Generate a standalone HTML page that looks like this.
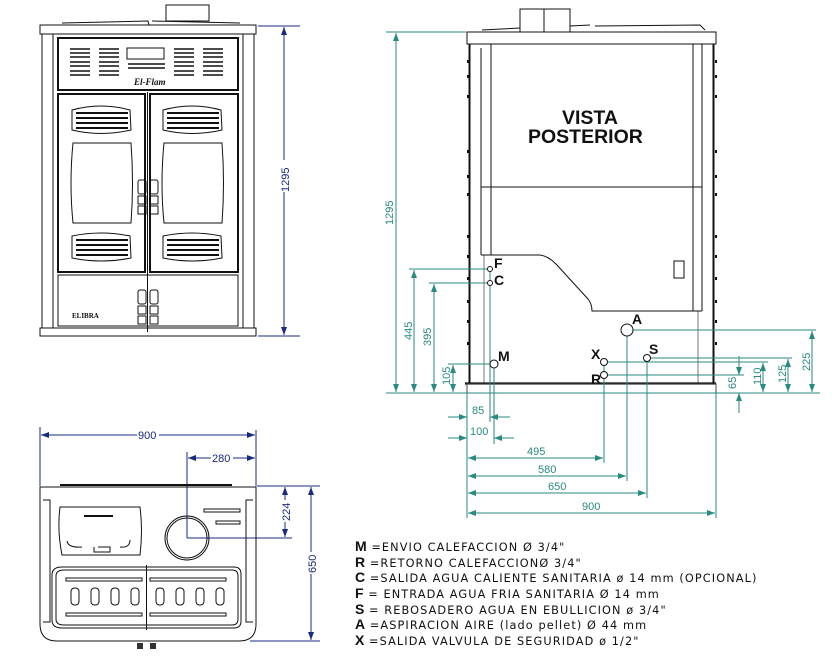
<!DOCTYPE html>
<html><head><meta charset="utf-8"><style>
html,body{margin:0;padding:0;background:#fff;}
svg{display:block;}
.k{stroke:#111;fill:none;stroke-width:1;}
.kb{stroke:#111;fill:none;stroke-width:2;}
.t{stroke:#2a8a80;fill:none;stroke-width:1;}
.n{stroke:#1a2a80;fill:none;stroke-width:1;}
.tt{fill:#2a8a80;font-family:"Liberation Sans",sans-serif;font-size:11px;}
.nt{fill:#1a2a80;font-family:"Liberation Sans",sans-serif;font-size:11px;}
.lg{font-family:"DejaVu Sans","Liberation Sans",sans-serif;font-size:11.3px;fill:#111;letter-spacing:1.1px;}
.lb{font-family:"Liberation Sans",sans-serif;font-weight:bold;font-size:14px;fill:#111;letter-spacing:0;}
</style></head><body>
<svg width="834" height="669" viewBox="0 0 834 669" xmlns="http://www.w3.org/2000/svg">
<defs>
<marker id="at" markerWidth="8" markerHeight="6" refX="8" refY="3" orient="auto-start-reverse"><path d="M0,0 L8,3 L0,6 z" fill="#2a8a80"/></marker>
<marker id="an" markerWidth="8" markerHeight="6" refX="8" refY="3" orient="auto-start-reverse"><path d="M0,0 L8,3 L0,6 z" fill="#1a2a80"/></marker>
</defs>

<!-- ============ FRONT VIEW ============ -->
<rect x="166" y="5" width="43" height="16" class="k"/>
<path d="M62,23 L148,21 L149,25 M152,21 L240,23" class="k"/>
<rect x="40" y="25" width="216" height="9" class="k"/>
<rect x="42" y="34" width="11" height="294" class="k"/>
<rect x="243" y="34" width="11" height="294" class="k"/>
<rect x="53" y="34" width="190" height="294" class="k"/>
<rect x="58" y="38" width="180" height="52" class="kb" stroke-width="1.5"/>
<g class="k">
<rect x="127" y="48" width="37" height="11"/>
<path d="M70,49h20M70,53h20M70,57h20M70,62h20M70,66h20M70,71h20M70,75h20
M99,49h20M99,53h20M99,57h20M99,62h20M99,66h20M99,71h20M99,75h20
M174,49h20M174,53h20M174,57h20M174,62h20M174,66h20M174,71h20M174,75h20
M203,49h20M203,53h20M203,57h20M203,62h20M203,66h20M203,71h20M203,75h20
M128,64h37M128,68h37" stroke-width="1.6"/>
</g>
<text x="134" y="85" font-family="Liberation Serif" font-size="9" font-weight="bold" font-style="italic" fill="#111">El-Flam</text>
<!-- doors -->
<rect x="58" y="94" width="87" height="178" class="kb" stroke-width="1.5"/>
<rect x="150" y="94" width="88" height="178" class="kb" stroke-width="1.5"/>
<line x1="147.5" y1="92" x2="147.5" y2="332" class="k"/>
<g class="k">
<path d="M72,110 Q101,102 130,110 L131,130 Q101,137 72,130 Z"/>
<path d="M163,110 Q192,102 221,110 L222,130 Q192,137 163,130 Z"/>
<path d="M72,236 Q101,230 130,236 L131,258 Q101,264 72,258 Z"/>
<path d="M163,236 Q192,230 221,236 L222,258 Q192,264 163,258 Z"/>
<path d="M73,143 L131,143 Q134,183 131,223 L73,223 Q69,183 73,143 Z"/>
<path d="M164,143 L222,143 Q225,183 222,223 L164,223 Q160,183 164,143 Z"/>
<path d="M76,113h52M76,118h52M76,123h52M76,128h52 M167,113h52M167,118h52M167,123h52M167,128h52
M76,240h52M76,245h52M76,250h52M76,255h52 M167,240h52M167,245h52M167,250h52M167,255h52" stroke-width="2"/>
</g>
<g class="k" stroke-width="1.3">
<rect x="138" y="180" width="8" height="14" rx="2"/><rect x="150" y="180" width="8" height="14" rx="2"/>
<rect x="138" y="196" width="8" height="8"/><rect x="150" y="196" width="8" height="8"/>
<rect x="138" y="206" width="8" height="8"/><rect x="150" y="206" width="8" height="8"/>
<rect x="138" y="290" width="8" height="14" rx="2"/><rect x="150" y="290" width="8" height="14" rx="2"/>
<rect x="138" y="306" width="8" height="8"/><rect x="150" y="306" width="8" height="8"/>
<rect x="138" y="316" width="8" height="8"/><rect x="150" y="316" width="8" height="8"/>
</g>
<rect x="58" y="275" width="180" height="51" class="k"/>
<text x="72" y="318" font-family="Liberation Serif" font-size="7" font-weight="bold" fill="#111">ELIBRA</text>
<rect x="40" y="328" width="216" height="8" class="k"/>
<line x1="258" y1="26" x2="300" y2="26" class="n"/>
<line x1="258" y1="336" x2="300" y2="336" class="n"/>
<line x1="284" y1="27" x2="284" y2="335" class="n" marker-start="url(#an)" marker-end="url(#an)"/>
<rect x="278" y="160" width="12" height="32" fill="#fff"/>
<text class="nt" transform="translate(289,192) rotate(-90)">1295</text>

<!-- ============ TOP VIEW ============ -->
<line x1="40" y1="427" x2="40" y2="486" class="n"/>
<line x1="256" y1="430" x2="256" y2="486" class="n"/>
<line x1="41" y1="435" x2="255" y2="435" class="n" marker-start="url(#an)" marker-end="url(#an)"/>
<rect x="137" y="429" width="22" height="12" fill="#fff"/><text class="nt" x="138" y="439">900</text>
<line x1="187" y1="452" x2="187" y2="538" class="n"/>
<line x1="188" y1="458" x2="255" y2="458" class="n" marker-start="url(#an)" marker-end="url(#an)"/>
<rect x="211" y="452" width="22" height="12" fill="#fff"/><text class="nt" x="212" y="462">280</text>
<line x1="257" y1="486" x2="320" y2="486" class="n"/>
<line x1="187" y1="538" x2="292" y2="538" class="n"/>
<line x1="250" y1="641" x2="320" y2="641" class="n"/>
<line x1="285" y1="487" x2="285" y2="537" class="n" marker-start="url(#an)" marker-end="url(#an)"/>
<rect x="279" y="500" width="12" height="22" fill="#fff"/><text class="nt" transform="translate(290,521) rotate(-90)">224</text>
<line x1="311" y1="487" x2="311" y2="640" class="n" marker-start="url(#an)" marker-end="url(#an)"/>
<rect x="305" y="552" width="12" height="22" fill="#fff"/><text class="nt" transform="translate(316,573) rotate(-90)">650</text>
<line x1="60" y1="485" x2="232" y2="485" stroke="#111" stroke-width="2"/>
<path d="M40,487 L256,487 L256,624 Q256,641 239,641 L57,641 Q40,641 40,624 Z" class="k" stroke-width="1.5"/>
<path d="M43,500 L50,500 L50,622 L43,622 M253,500 L246,500 L246,622 L253,622" class="k"/>
<path d="M60,507 L140,507 Q143,530 140,555 L62,555 Q57,530 60,507 Z" class="k"/>
<line x1="84" y1="516" x2="113" y2="516" stroke="#111" stroke-width="2"/>
<path d="M67,541 Q68,548 82,547 M98,547 L110,547 L110,552 L94,552 L94,547 M120,547 Q130,548 130,540" class="k"/>
<circle cx="187" cy="538" r="22" class="k" stroke-width="1.5"/><circle cx="187" cy="538" r="20" class="k"/>
<rect x="204" y="509" width="36" height="3" class="k"/><rect x="216" y="521" width="24" height="3" class="k"/>
<path d="M62,567 L234,567 Q241,567 241,574 L241,621 Q241,628 234,628 L62,628 Q52,628 52,620 L52,575 Q52,567 62,567 Z" class="k" stroke-width="1.5"/>
<path d="M64,570 L232,570 Q238,570 238,576 L238,619 Q238,625 232,625 L64,625 Q56,625 56,619 L56,576 Q56,570 64,570 Z" class="k"/>
<line x1="146.5" y1="565" x2="146.5" y2="630" class="k"/>
<g class="k"><rect x="66" y="578" width="76" height="3"/><rect x="150" y="578" width="76" height="3"/>
<rect x="66" y="613" width="76" height="3"/><rect x="150" y="613" width="76" height="3"/>
<rect x="71" y="588" width="8" height="17" rx="3.5"/><rect x="91" y="588" width="8" height="17" rx="3.5"/><rect x="111" y="588" width="8" height="17" rx="3.5"/><rect x="131" y="588" width="8" height="17" rx="3.5"/>
<rect x="156" y="588" width="8" height="17" rx="3.5"/><rect x="176" y="588" width="8" height="17" rx="3.5"/><rect x="196" y="588" width="8" height="17" rx="3.5"/><rect x="216" y="588" width="8" height="17" rx="3.5"/></g>
<rect x="137" y="643" width="6" height="6" fill="#333"/><rect x="150" y="643" width="6" height="6" fill="#333"/>

<!-- ============ REAR VIEW ============ -->
<rect x="520" y="9" width="50" height="23" class="k"/><line x1="544" y1="9" x2="544" y2="32" class="k"/>
<path d="M482,30 L520,28 M570,26 L590,25 M595,26 L700,25 L705,30" class="k"/>
<rect x="467" y="32" width="249" height="12" class="k" stroke-width="1.3"/>
<line x1="469.5" y1="44" x2="469.5" y2="383" stroke="#111" stroke-width="2"/>
<line x1="713.5" y1="44" x2="713.5" y2="383" stroke="#111" stroke-width="2"/>
<line x1="481" y1="48" x2="481" y2="255" class="k"/>
<line x1="491" y1="44" x2="491" y2="255" class="k"/>
<line x1="484" y1="255" x2="484" y2="383" stroke="#777"/>
<line x1="702" y1="44" x2="702" y2="311" class="k"/>
<line x1="693" y1="44" x2="693" y2="311" class="k"/>
<line x1="698" y1="311" x2="698" y2="383" stroke="#777"/>
<line x1="481" y1="187" x2="702" y2="187" class="k"/>
<path d="M481,255 L540,255 Q548,256 556,264 L588,299 Q592,304 592,311 L702,311" class="k"/>
<rect x="674" y="261" width="10" height="17" class="k"/>
<text style="font-family:'Liberation Sans',sans-serif;font-weight:bold;font-size:19.5px;fill:#111" x="562" y="124">VISTA</text>
<text style="font-family:'Liberation Sans',sans-serif;font-weight:bold;font-size:19.5px;fill:#111" x="528" y="143">POSTERIOR</text>
<line x1="465" y1="383.5" x2="716" y2="383.5" stroke="#111" stroke-width="2.2"/>
<rect x="467" y="384" width="249" height="9" fill="none" stroke="#444"/>
<g fill="#111">
<rect x="467" y="60" width="2" height="3"/><rect x="467" y="75" width="2" height="3"/><rect x="467" y="95" width="2" height="3"/><rect x="467" y="150" width="2" height="3"/><rect x="467" y="175" width="2" height="3"/><rect x="467" y="193" width="2" height="3"/><rect x="467" y="235" width="2" height="3"/><rect x="467" y="255" width="2" height="3"/><rect x="467" y="277" width="2" height="3"/><rect x="467" y="300" width="2" height="3"/><rect x="467" y="320" width="2" height="3"/><rect x="467" y="342" width="2" height="3"/>
<rect x="715" y="60" width="2" height="3"/><rect x="715" y="75" width="2" height="3"/><rect x="715" y="95" width="2" height="3"/><rect x="715" y="150" width="2" height="3"/><rect x="715" y="175" width="2" height="3"/><rect x="715" y="193" width="2" height="3"/><rect x="715" y="235" width="2" height="3"/><rect x="715" y="255" width="2" height="3"/><rect x="715" y="277" width="2" height="3"/><rect x="715" y="300" width="2" height="3"/><rect x="715" y="320" width="2" height="3"/><rect x="715" y="342" width="2" height="3"/>
</g>
<g class="t">
<line x1="386" y1="32" x2="466" y2="32"/>
<line x1="386" y1="393" x2="820" y2="393"/>
<line x1="409" y1="269" x2="490" y2="269"/>
<line x1="429" y1="283" x2="490" y2="283"/>
<line x1="448" y1="364" x2="494" y2="364"/>
<line x1="490" y1="269" x2="490" y2="422"/>
<line x1="494" y1="364" x2="494" y2="444"/>
<line x1="467" y1="393" x2="467" y2="518"/>
<line x1="716" y1="393" x2="716" y2="518"/>
<line x1="604" y1="362" x2="604" y2="463"/>
<line x1="627" y1="330" x2="627" y2="481"/>
<line x1="647" y1="358" x2="647" y2="498"/>
<line x1="627" y1="330" x2="816" y2="330"/>
<line x1="647" y1="358" x2="792" y2="358"/>
<line x1="604" y1="362" x2="768" y2="362"/>
<line x1="604" y1="375" x2="744" y2="375"/>
</g>
<g class="t">
<line x1="396" y1="33" x2="396" y2="392" marker-start="url(#at)" marker-end="url(#at)"/>
<line x1="414" y1="270" x2="414" y2="392" marker-start="url(#at)" marker-end="url(#at)"/>
<line x1="434" y1="284" x2="434" y2="392" marker-start="url(#at)" marker-end="url(#at)"/>
<line x1="453" y1="365" x2="453" y2="392" marker-start="url(#at)" marker-end="url(#at)"/>
<line x1="812" y1="331" x2="812" y2="392" marker-start="url(#at)" marker-end="url(#at)"/>
<line x1="788" y1="359" x2="788" y2="392" marker-start="url(#at)" marker-end="url(#at)"/>
<line x1="763" y1="363" x2="763" y2="392" marker-start="url(#at)" marker-end="url(#at)"/>
<line x1="739" y1="356" x2="739" y2="375" marker-end="url(#at)"/>
<line x1="739" y1="413" x2="739" y2="393" marker-end="url(#at)"/>
<line x1="448" y1="417" x2="467" y2="417" marker-end="url(#at)"/>
<line x1="510" y1="417" x2="490" y2="417" marker-end="url(#at)"/>
<line x1="448" y1="438" x2="467" y2="438" marker-end="url(#at)"/>
<line x1="514" y1="438" x2="494" y2="438" marker-end="url(#at)"/>
<line x1="468" y1="458" x2="603" y2="458" marker-start="url(#at)" marker-end="url(#at)"/>
<line x1="468" y1="476" x2="626" y2="476" marker-start="url(#at)" marker-end="url(#at)"/>
<line x1="468" y1="493" x2="646" y2="493" marker-start="url(#at)" marker-end="url(#at)"/>
<line x1="468" y1="513" x2="715" y2="513" marker-start="url(#at)" marker-end="url(#at)"/>
</g>
<g class="tt">
<text transform="translate(393,225) rotate(-90)">1295</text>
<text transform="translate(412,340) rotate(-90)">445</text>
<text transform="translate(431,346) rotate(-90)">395</text>
<text transform="translate(450,385) rotate(-90)">105</text>
<text transform="translate(810,371) rotate(-90)">225</text>
<text transform="translate(786,383) rotate(-90)">125</text>
<text transform="translate(761,385) rotate(-90)">110</text>
<text transform="translate(736,389) rotate(-90)">65</text>
<text x="472" y="414">85</text>
<text x="470" y="435">100</text>
<text x="527" y="455">495</text>
<text x="538" y="473">580</text>
<text x="548" y="490">650</text>
<text x="582" y="510">900</text>
</g>
<g class="k">
<circle cx="490" cy="269" r="2.5" fill="#fff"/><circle cx="490" cy="283" r="2.5" fill="#fff"/>
<circle cx="494" cy="364" r="4" fill="#fff"/><circle cx="604" cy="362" r="3.5" fill="#fff"/>
<circle cx="604" cy="375" r="3.5" fill="#fff"/><circle cx="627" cy="330" r="6" fill="#fff"/>
<circle cx="647" cy="358" r="3.5" fill="#fff"/>
</g>
<g class="lb">
<text x="494" y="268">F</text><text x="494" y="285">C</text><text x="498" y="361">M</text>
<text x="591" y="359">X</text><text x="591" y="384">R</text><text x="632" y="324">A</text><text x="649" y="354">S</text>
</g>

<!-- ============ LEGEND ============ -->
<g class="lg">
<text x="355" y="551"><tspan class="lb">M</tspan> =ENVIO CALEFACCION Ø 3/4"</text>
<text x="355" y="567"><tspan class="lb">R</tspan> =RETORNO CALEFACCIONØ  3/4"</text>
<text x="355" y="582"><tspan class="lb">C</tspan> =SALIDA AGUA CALIENTE SANITARIA ø 14 mm (OPCIONAL)</text>
<text x="355" y="598"><tspan class="lb">F</tspan> = ENTRADA AGUA FRIA SANITARIA Ø  14 mm</text>
<text x="355" y="614"><tspan class="lb">S</tspan> = REBOSADERO AGUA EN EBULLICION ø 3/4"</text>
<text x="355" y="629"><tspan class="lb">A</tspan> =ASPIRACION AIRE (lado pellet) Ø 44 mm</text>
<text x="355" y="645"><tspan class="lb">X</tspan> =SALIDA VALVULA DE SEGURIDAD ø 1/2"</text>
</g>
</svg>
</body></html>
